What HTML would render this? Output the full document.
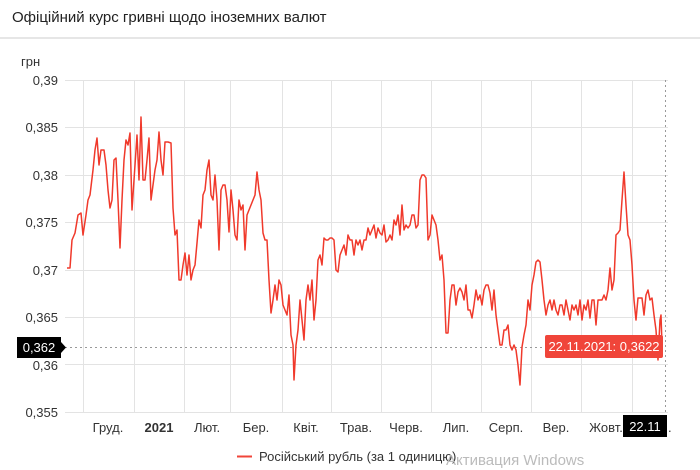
<!DOCTYPE html><html><head><meta charset="utf-8"><style>
body{margin:0;width:700px;height:470px;background:#fff;font-family:"Liberation Sans",sans-serif;overflow:hidden;position:relative}
.t{position:absolute;left:12px;top:9px;font-size:15px;color:#222}
.hr{position:absolute;left:0;top:37px;width:700px;height:2px;background:#e6e6e6}
</style></head><body>
<div class="t">Офіційний курс гривні щодо іноземних валют</div><div class="hr"></div>
<svg width="700" height="470" style="position:absolute;left:0;top:0" font-family="Liberation Sans, sans-serif">
<g stroke="#e3e3e3" stroke-width="1">
<line x1="65" x2="668" y1="80.5" y2="80.5"/><line x1="65" x2="668" y1="127.5" y2="127.5"/><line x1="65" x2="668" y1="175.5" y2="175.5"/><line x1="65" x2="668" y1="222.5" y2="222.5"/><line x1="65" x2="668" y1="270.5" y2="270.5"/><line x1="65" x2="668" y1="317.5" y2="317.5"/><line x1="65" x2="668" y1="364.5" y2="364.5"/><line x1="65" x2="668" y1="412.5" y2="412.5"/>
<line x1="83.5" x2="83.5" y1="80" y2="412"/><line x1="134.5" x2="134.5" y1="80" y2="412"/><line x1="184.5" x2="184.5" y1="80" y2="412"/><line x1="230.5" x2="230.5" y1="80" y2="412"/><line x1="282.5" x2="282.5" y1="80" y2="412"/><line x1="331.5" x2="331.5" y1="80" y2="412"/><line x1="381.5" x2="381.5" y1="80" y2="412"/><line x1="431.5" x2="431.5" y1="80" y2="412"/><line x1="481.5" x2="481.5" y1="80" y2="412"/><line x1="531.5" x2="531.5" y1="80" y2="412"/><line x1="581.5" x2="581.5" y1="80" y2="412"/><line x1="632.5" x2="632.5" y1="80" y2="412"/>
</g>
<g font-size="13" fill="#333" text-anchor="end">
<text x="21" y="66" text-anchor="start">грн</text>
<text x="58" y="85">0,39</text><text x="58" y="132">0,385</text><text x="58" y="180">0,38</text><text x="58" y="227">0,375</text><text x="58" y="275">0,37</text><text x="58" y="322">0,365</text><text x="58" y="370">0,36</text><text x="58" y="417">0,355</text>
</g>
<g font-size="13" fill="#333" text-anchor="middle">
<text x="108" y="432">Груд.</text><text x="159" y="432" font-weight="bold">2021</text><text x="207" y="432">Лют.</text><text x="256" y="432">Бер.</text><text x="306" y="432">Квіт.</text><text x="356" y="432">Трав.</text><text x="406" y="432">Черв.</text><text x="456" y="432">Лип.</text><text x="506" y="432">Серп.</text><text x="556" y="432">Вер.</text><text x="606" y="432">Жовт.</text>
</g>
<line x1="65" x2="665" y1="347.5" y2="347.5" stroke="#999" stroke-dasharray="2,3"/>
<line x1="665.5" x2="665.5" y1="80" y2="415" stroke="#999" stroke-dasharray="2,3"/>
<polyline fill="none" stroke="#f0392b" stroke-width="1.5" stroke-linejoin="round" points="67,268 70,268 72,240 75,233 78,215 81,213 83,235 86,215 88,200 90,195 93,170 95,150 97,138 99,165 101,150 104,150 106,165 108,190 110,208 112,200 114,160 116,158 118,200 120,248 122,200 124,160 126,140 128,145 130,133 132,210 134,180 137,135 139,180 141,117 143,180 145,180 147,160 149,138 151,200 153,185 155,170 157,160 159,132 161,160 163,175 165,142 168,142 171,143 173,208 175,235 177,230 179,280 181,280 183,265 185,253 187,275 189,255 191,280 193,270 195,265 197,243 199,220 201,228 203,195 205,190 207,170 209,160 211,195 213,200 215,175 217,200 219,250 221,190 223,185 225,185 227,200 229,232 231,190 233,210 235,235 237,240 239,200 241,210 243,205 245,250 247,215 249,210 251,205 253,200 255,195 257,172 259,190 261,200 263,233 265,240 267,240 269,280 271,313 273,300 275,285 277,300 279,280 281,285 283,305 285,310 287,315 289,295 291,335 293,345 294,380 296,345 298,330 300,300 302,320 304,340 306,300 308,285 310,300 312,280 314,320 316,300 318,260 320,255 322,265 324,238 326,240 328,240 330,238 332,238 334,240 336,270 338,272 340,255 342,250 344,245 346,255 348,235 350,240 352,240 354,255 356,240 358,245 360,240 362,250 364,240 366,240 368,228 370,235 372,230 374,225 376,238 378,228 380,233 382,235 384,225 386,242 388,240 390,235 392,240 394,220 396,225 398,215 400,235 402,205 404,230 406,225 408,228 410,225 412,215 414,215 416,228 418,225 420,180 422,175 424,175 426,178 428,240 430,235 432,215 434,220 436,225 438,240 440,260 442,255 444,280 446,333 448,333 450,300 452,285 454,285 456,305 458,292 460,288 462,292 464,300 466,285 468,310 470,310 472,318 474,305 476,290 478,300 480,295 482,305 484,290 486,285 488,285 490,293 492,310 494,290 496,315 498,330 500,345 502,345 504,330 506,330 508,325 510,345 512,350 514,345 516,350 518,365 520,385 522,347 524,335 526,325 528,300 530,310 532,285 534,275 536,262 538,260 540,262 542,280 544,300 546,315 548,305 550,300 552,310 554,300 556,310 558,315 560,305 562,305 564,315 566,300 568,310 570,320 572,305 574,310 576,305 578,315 580,300 582,320 584,305 586,310 588,300 590,318 592,300 594,300 596,325 598,300 600,300 602,300 604,295 606,300 608,290 610,268 612,290 614,280 616,235 618,233 620,230 622,200 624,172 626,205 628,235 630,240 632,265 634,300 636,320 638,298 640,298 642,298 644,315 646,295 648,290 650,300 652,298 654,315 656,330 658,360 660,320 661,315 662,345"/>
<rect x="17" y="337" width="44" height="21" fill="#000"/><polygon points="61,342 66,347.5 61,353" fill="#000"/>
<text x="39" y="352" font-size="13" fill="#fff" text-anchor="middle">0,362</text>
<rect x="545" y="335" width="118" height="23" rx="2" fill="#f0453a"/>
<text x="604" y="351" font-size="13" fill="#fff" text-anchor="middle">22.11.2021: 0,3622</text>
<rect x="623" y="415" width="44" height="22" fill="#000"/>
<text x="645" y="431" font-size="13" fill="#fff" text-anchor="middle">22.11</text>
<text x="668" y="432" font-size="13" fill="#333">.</text>
<line x1="237" x2="252" y1="456.5" y2="456.5" stroke="#f0453a" stroke-width="2"/>
<text x="259" y="461" font-size="13" fill="#333">Російський рубль (за 1 одиницю)</text>
<text x="446" y="465" font-size="15" fill="#bbb">Активация Windows</text>
</svg>
</body></html>
